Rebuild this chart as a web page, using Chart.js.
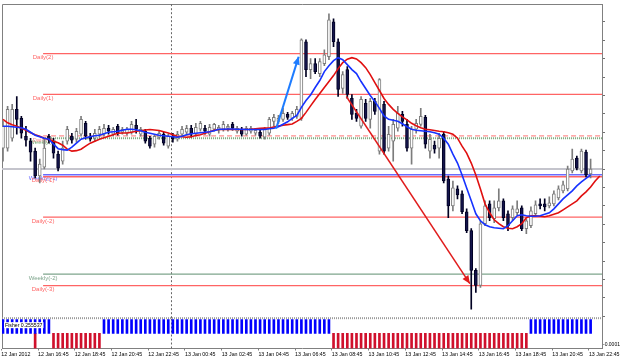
<!DOCTYPE html>
<html>
<head>
<meta charset="utf-8">
<title>M15 chart</title>
<script src="https://cdn.jsdelivr.net/npm/chart.js@4.4.1/dist/chart.umd.min.js"></script>
<style>
  html, body { margin: 0; padding: 0; background: #fff; }
</style>
</head>
<body>
<canvas id="chart" width="625" height="360"></canvas>
<script>
// 15 minute bars, 12 Jan 2012 14:45 .. 13 Jan 2012 22:45 (one label every 8 bars)
const timeLabels = ['12 Jan 2012', '12 Jan 16:45', '12 Jan 18:45', '12 Jan 20:45', '12 Jan 22:45',
  '13 Jan 00:45', '13 Jan 02:45', '13 Jan 04:45', '13 Jan 06:45', '13 Jan 08:45', '13 Jan 10:45',
  '13 Jan 12:45', '13 Jan 14:45', '13 Jan 16:45', '13 Jan 18:45', '13 Jan 20:45', '13 Jan 22:45'];

const opens = [1.2803,1.2803,1.2813,1.2842,1.2833,1.2815,1.2810,1.2800,1.2775,1.2784,
  1.2815,1.2810,1.2797,1.2790,1.2810,1.2815,1.2812,1.2817,1.2828,1.2815,
  1.2813,1.2817,1.2817,1.2823,1.2817,1.2825,1.2819,1.2818,1.2819,1.2826,
  1.2817,1.2820,1.2813,1.2807,1.2814,1.2817,1.2805,1.2815,1.2812,1.2817,
  1.2819,1.2823,1.2817,1.2822,1.2823,1.2817,1.2822,1.2821,1.2822,1.2823,
  1.2827,1.2820,1.2822,1.2817,1.2820,1.2818,1.2819,1.2814,1.2818,1.2830,
  1.2830,1.2832,1.2837,1.2833,1.2835,1.2833,1.2910,1.2882,1.2888,1.2878,
  1.2888,1.2895,1.2930,1.2910,1.2863,1.2882,1.2853,1.2838,1.2825,1.2848,
  1.2832,1.2850,1.2800,1.2847,1.2803,1.2810,1.2823,1.2837,1.2827,1.2803,
  1.2822,1.2827,1.2834,1.2800,1.2806,1.2803,1.2817,1.2772,1.2745,1.2762,
  1.2757,1.2739,1.2720,1.2680,1.2665,1.2727,1.2747,1.2732,1.2743,1.2750,
  1.2737,1.2733,1.2738,1.2743,1.2722,1.2725,1.2737,1.2747,1.2747,1.2745,
  1.2747,1.2753,1.2760,1.2762,1.2780,1.2793,1.2780,1.2799,1.2777];
const highs = [1.2830,1.2845,1.2847,1.2855,1.2835,1.2825,1.2813,1.2803,1.2792,1.2812,
  1.2817,1.2813,1.2800,1.2810,1.2825,1.2818,1.2823,1.2835,1.2830,1.2818,
  1.2822,1.2825,1.2827,1.2826,1.2824,1.2827,1.2824,1.2824,1.2830,1.2832,
  1.2824,1.2822,1.2815,1.2817,1.2820,1.2819,1.2817,1.2818,1.2820,1.2825,
  1.2826,1.2826,1.2828,1.2830,1.2826,1.2827,1.2828,1.2826,1.2830,1.2827,
  1.2829,1.2825,1.2824,1.2825,1.2825,1.2823,1.2821,1.2824,1.2834,1.2837,
  1.2836,1.2843,1.2839,1.2840,1.2845,1.2913,1.2912,1.2893,1.2893,1.2893,
  1.2902,1.2938,1.2933,1.2913,1.2880,1.2885,1.2857,1.2842,1.2855,1.2852,
  1.2853,1.2853,1.2873,1.2850,1.2825,1.2832,1.2845,1.2840,1.2832,1.2825,
  1.2832,1.2843,1.2836,1.2817,1.2810,1.2818,1.2820,1.2775,1.2770,1.2765,
  1.2760,1.2742,1.2722,1.2682,1.2730,1.2750,1.2750,1.2750,1.2762,1.2752,
  1.2740,1.2745,1.2750,1.2745,1.2732,1.2744,1.2750,1.2752,1.2752,1.2754,
  1.2760,1.2765,1.2770,1.2785,1.2802,1.2795,1.2802,1.2801,1.2792];
const lows = [1.2790,1.2800,1.2810,1.2817,1.2813,1.2805,1.2790,1.2773,1.2768,1.2782,
  1.2808,1.2793,1.2780,1.2787,1.2807,1.2808,1.2809,1.2815,1.2812,1.2810,
  1.2810,1.2814,1.2815,1.2817,1.2815,1.2816,1.2817,1.2816,1.2817,1.2818,
  1.2815,1.2808,1.2803,1.2804,1.2812,1.2806,1.2803,1.2809,1.2810,1.2815,
  1.2816,1.2814,1.2815,1.2820,1.2817,1.2815,1.2820,1.2818,1.2820,1.2820,
  1.2821,1.2818,1.2815,1.2816,1.2818,1.2816,1.2813,1.2812,1.2816,1.2825,
  1.2828,1.2830,1.2832,1.2831,1.2833,1.2831,1.2875,1.2873,1.2878,1.2875,
  1.2886,1.2892,1.2905,1.2855,1.2858,1.2853,1.2832,1.2830,1.2823,1.2830,
  1.2823,1.2837,1.2797,1.2797,1.2800,1.2790,1.2820,1.2825,1.2800,1.2787,
  1.2818,1.2825,1.2803,1.2793,1.2798,1.2793,1.2768,1.2733,1.2740,1.2752,
  1.2737,1.2718,1.2641,1.2658,1.2663,1.2725,1.2730,1.2728,1.2740,1.2730,
  1.2720,1.2730,1.2736,1.2720,1.2717,1.2723,1.2735,1.2742,1.2740,1.2743,
  1.2745,1.2751,1.2758,1.2760,1.2778,1.2781,1.2778,1.2774,1.2773];
const closes = [1.2825,1.2842,1.2842,1.2832,1.2818,1.2811,1.2799,1.2775,1.2787,1.2803,
  1.2811,1.2798,1.2783,1.2803,1.2822,1.2811,1.2820,1.2832,1.2815,1.2812,
  1.2818,1.2822,1.2823,1.2820,1.2822,1.2818,1.2822,1.2822,1.2827,1.2822,
  1.2822,1.2810,1.2805,1.2815,1.2818,1.2808,1.2815,1.2812,1.2817,1.2822,
  1.2823,1.2817,1.2824,1.2828,1.2820,1.2824,1.2827,1.2824,1.2827,1.2825,
  1.2823,1.2823,1.2817,1.2823,1.2823,1.2821,1.2815,1.2822,1.2832,1.2834,
  1.2833,1.2838,1.2834,1.2838,1.2842,1.2912,1.2882,1.2888,1.2880,1.2890,
  1.2897,1.2932,1.2910,1.2862,1.2877,1.2857,1.2837,1.2833,1.2852,1.2833,
  1.2850,1.2840,1.2872,1.2800,1.2817,1.2827,1.2838,1.2830,1.2803,1.2822,
  1.2828,1.2835,1.2807,1.2812,1.2802,1.2813,1.2770,1.2745,1.2763,1.2756,
  1.2739,1.2720,1.2680,1.2665,1.2727,1.2745,1.2733,1.2743,1.2750,1.2733,
  1.2725,1.2742,1.2742,1.2722,1.2730,1.2740,1.2746,1.2745,1.2744,1.2748,
  1.2757,1.2762,1.2766,1.2782,1.2792,1.2783,1.2800,1.2776,1.2782];

// moving averages (blue = fast, red = slow)
const maFast = [1.2825,1.2825,1.28245,1.2824,1.28235,1.2822,1.2819,1.2816,1.28145,1.2813,
  1.2812,1.2807,1.28025,1.28015,1.2801,1.2804,1.2808,1.2812,1.28135,1.28145,
  1.28155,1.2816,1.28175,1.2819,1.28195,1.2820,1.2821,1.2822,1.2822,1.28215,
  1.28205,1.2819,1.2818,1.2817,1.2816,1.28155,1.2815,1.28145,1.2814,1.2815,
  1.28165,1.28175,1.2818,1.28185,1.2819,1.28195,1.28205,1.2822,1.2822,1.28222,
  1.28223,1.2822,1.2822,1.28217,1.28217,1.28217,1.28217,1.28217,1.28225,1.2823,
  1.28245,1.2827,1.28295,1.2833,1.2836,1.2844,1.2851,1.28565,1.2864,1.2871,
  1.2880,1.2886,1.2891,1.2894,1.2892,1.2887,1.2882,1.2878,1.2870,1.2863,
  1.2856,1.2850,1.2843,1.28355,1.2832,1.2831,1.2830,1.28275,1.28245,1.2822,
  1.2821,1.28205,1.2820,1.28195,1.28185,1.2817,1.2813,1.2807,1.2797,1.2788,
  1.2776,1.2763,1.2750,1.2737,1.2730,1.2726,1.2724,1.2723,1.27225,1.2722,
  1.2725,1.2730,1.2735,1.2736,1.2735,1.27345,1.27345,1.2735,1.27365,1.2738,
  1.2742,1.2747,1.2752,1.2756,1.2760,1.2765,1.2769,1.27725,1.2776];
const maSlow = [1.2832,1.28285,1.28265,1.2825,1.2823,1.2821,1.28185,1.28165,1.2815,1.2813,
  1.2812,1.2810,1.28085,1.2806,1.2802,1.2800,1.28005,1.2802,1.2805,1.2808,
  1.2810,1.2812,1.28135,1.2815,1.28165,1.2818,1.28183,1.28183,1.2819,1.2820,
  1.28205,1.28212,1.28217,1.28212,1.28207,1.28195,1.28183,1.28165,1.2815,1.28145,
  1.2814,1.28145,1.28157,1.28165,1.2818,1.28195,1.2821,1.28217,1.28217,1.28217,
  1.28217,1.28217,1.28217,1.28217,1.2822,1.28225,1.2823,1.28232,1.28233,1.28242,
  1.28252,1.2826,1.28267,1.28273,1.2830,1.2833,1.2839,1.28455,1.2852,1.2858,
  1.2864,1.2870,1.2876,1.2883,1.2889,1.28925,1.2894,1.28927,1.2889,1.2884,
  1.2877,1.2869,1.2861,1.2853,1.2847,1.2842,1.2838,1.28345,1.28315,1.2828,
  1.28255,1.28235,1.2822,1.28215,1.28207,1.2820,1.28195,1.28185,1.2817,1.2813,
  1.2805,1.2798,1.2788,1.2776,1.2762,1.2747,1.2738,1.2731,1.2727,1.2724,
  1.27225,1.2722,1.2724,1.2727,1.2733,1.2735,1.2735,1.27345,1.2734,1.2735,
  1.27365,1.2738,1.2741,1.2744,1.2747,1.2750,1.2755,1.2759,1.2764,1.2770,1.2775];

// pivot levels drawn from bar levelStart to the right edge
const levelStart = 8.73;
const levelNames = ['Daily(2)', 'Daily(1)', 'Daily(P)', 'Weekly(P)', 'Weekly(-1)', 'Daily(-1)', 'Daily(-2)', 'Weekly(-2)', 'Daily(-3)'];
const levelValues = [1.2898, 1.2857, 1.28153, 1.2813, 1.27763, 1.27743, 1.27337, 1.26763, 1.26647];
const bidPrice = 1.2782;
const daySeparator = 36.7; // 13 Jan 00:00

// fisher sign histogram: runs of bars above / below zero
const fisherValue = '0.255537';
const fisherUpRuns = [[0, 10], [22, 71], [115, 128]];
const fisherDownRuns = [[7, 7], [11, 21], [72, 114]];
const fisherUp = 0.9, fisherDown = -1;

// trend arrows [bar, price]
const blueArrow = [[59.5, 1.28227], [64.4, 1.2895]];
const redArrow = [[74.8, 1.2855], [101.7, 1.26667]];

const levelColors = ['#ff6464', '#ff6464', '#ff9090', '#78a878', '#6a6aff', '#ff6464', '#ff6464', '#7ea58c', '#ff6464'];
const levelDash = [[], [], [5, 3], [1, 1], [], [], [], [], []];
const levelWidths = [1.2, 1.2, 1.2, 2, 1.6, 1.6, 1.2, 1.2, 1.2];

const xMin = -0.218, xMax = 130.48;
const yMin = 1.2632, yMax = 1.2948;

const isUp = i => closes[i] >= opens[i];
const upFill = '#ffffff', upLine = '#7c7c7c', downFill = '#14144c', downLine = '#000022';

function runsToPoints(runs, v) {
  let pts = [];
  runs.forEach(r => {
    for (let i = r[0]; i <= r[1]; i++) pts.push({x: i, y: v});
  });
  return pts;
}

let datasets = [
  { type: 'line', data: blueArrow.map(p => ({x: p[0], y: p[1]})), borderColor: '#1e7cff', borderWidth: 2, pointRadius: 0, arrow: true, order: 0 },
  { type: 'line', data: redArrow.map(p => ({x: p[0], y: p[1]})), borderColor: '#e01c1c', borderWidth: 1.5, pointRadius: 0, arrow: true, order: 0 },
  { type: 'line', data: maFast.map((v, i) => ({x: i, y: v})), borderColor: '#1632ff', borderWidth: 1.6, pointRadius: 0, order: 1 },
  { type: 'line', data: maSlow.map((v, i) => ({x: i, y: v})), borderColor: '#e01010', borderWidth: 1.6, pointRadius: 0, order: 1 },
  { type: 'bar', data: opens.map((o, i) => ({x: i, y: [o, closes[i]]})), barThickness: 3, grouped: false,
    borderSkipped: false, borderWidth: 1,
    backgroundColor: ctx => isUp(ctx.dataIndex) ? upFill : downFill,
    borderColor: ctx => isUp(ctx.dataIndex) ? upLine : downLine, order: 2 },
  { type: 'bar', data: lows.map((l, i) => ({x: i, y: [l, highs[i]]})), barThickness: 1, grouped: false,
    borderWidth: 0, backgroundColor: ctx => isUp(ctx.dataIndex) ? upLine : downLine, order: 3 },
  { type: 'bar', yAxisID: 'y2', data: runsToPoints(fisherUpRuns, fisherUp), barThickness: 2, grouped: false, backgroundColor: '#0000ff', order: 2 },
  { type: 'bar', yAxisID: 'y2', data: runsToPoints(fisherDownRuns, fisherDown), barThickness: 2, grouped: false, backgroundColor: '#d0102c', order: 2 },
  { type: 'line', data: [{x: xMin, y: bidPrice}, {x: xMax, y: bidPrice}], borderColor: '#c4c4cc', borderWidth: 2, pointRadius: 0, order: 5 },
  { type: 'line', data: [{x: daySeparator, y: yMin}, {x: daySeparator, y: yMax}], borderColor: '#666', borderWidth: 1, borderDash: [2, 2], pointRadius: 0, order: 5 },
  { type: 'line', yAxisID: 'y2', data: [{x: daySeparator, y: -1}, {x: daySeparator, y: 1}], borderColor: '#666', borderWidth: 1, borderDash: [2, 2], pointRadius: 0, order: 5 }
];
levelValues.forEach((v, k) => {
  datasets.push({ type: 'line', data: [{x: levelStart, y: v}, {x: xMax, y: v}], borderColor: levelColors[k],
    borderWidth: levelWidths[k], borderDash: levelDash[k], pointRadius: 0, order: 4 });
});

const font = 'Liberation Sans, Arial, sans-serif';

const extras = {
  id: 'extras',
  beforeDatasetsDraw(chart) {
    const {ctx, chartArea: a, scales} = chart;
    ctx.save();
    ctx.strokeStyle = '#808080';
    ctx.lineWidth = 1;
    ctx.beginPath();
    ctx.moveTo(a.left + 0.5, a.bottom);
    ctx.lineTo(a.left + 0.5, a.top + 0.5);
    ctx.lineTo(a.right, a.top + 0.5);
    ctx.stroke();
    ctx.strokeStyle = '#9c9c9c';
    ctx.lineWidth = 2;
    ctx.setLineDash([1, 1]);
    ctx.beginPath();
    ctx.moveTo(a.left, scales.y.bottom);
    ctx.lineTo(a.right, scales.y.bottom);
    ctx.stroke();
    // level captions under the start of each line
    ctx.font = '6px ' + font;
    ctx.textAlign = 'center';
    ctx.textBaseline = 'top';
    const lx = scales.x.getPixelForValue(levelStart);
    levelValues.forEach((v, k) => {
      ctx.fillStyle = levelColors[k];
      ctx.fillText(levelNames[k], lx, scales.y.getPixelForValue(v) + 1);
    });
    ctx.restore();
  },
  afterDatasetsDraw(chart) {
    const {ctx, scales} = chart;
    ctx.save();
    chart.data.datasets.forEach((ds, i) => {
      if (!ds.arrow) return;
      const pts = chart.getDatasetMeta(i).data;
      const a = pts[pts.length - 2], b = pts[pts.length - 1];
      const ang = Math.atan2(b.y - a.y, b.x - a.x);
      ctx.fillStyle = ds.borderColor;
      ctx.beginPath();
      ctx.moveTo(b.x, b.y);
      ctx.lineTo(b.x - 8 * Math.cos(ang) + 3.5 * Math.sin(ang), b.y - 8 * Math.sin(ang) - 3.5 * Math.cos(ang));
      ctx.lineTo(b.x - 8 * Math.cos(ang) - 3.5 * Math.sin(ang), b.y - 8 * Math.sin(ang) + 3.5 * Math.cos(ang));
      ctx.closePath();
      ctx.fill();
    });
    // indicator caption
    const tx = scales.x.left + 3, ty = scales.y2.top + 7;
    ctx.font = '5.2px ' + font;
    ctx.textBaseline = 'middle';
    const w = ctx.measureText('Fisher ' + fisherValue).width;
    ctx.fillStyle = '#fff';
    ctx.fillRect(tx - 1, ty - 3, w + 2, 6);
    ctx.fillStyle = '#000';
    ctx.fillText('Fisher ' + fisherValue, tx, ty);
    ctx.restore();
  }
};

new Chart(document.getElementById('chart'), {
  type: 'bar',
  data: { datasets: datasets },
  options: {
    responsive: false,
    animation: false,
    events: [],
    layout: { padding: { left: 2, top: 2, right: 0, bottom: 0 } },
    plugins: { legend: { display: false }, tooltip: { enabled: false } },
    scales: {
      x: {
        type: 'linear', position: 'bottom', min: xMin, max: xMax, offset: false,
        grid: { drawOnChartArea: false, tickLength: 2, color: '#808080', offset: false },
        border: { color: '#808080' },
        afterBuildTicks: s => { s.ticks = timeLabels.map((t, k) => ({ value: 8 * k - 0.37 })); },
        afterFit: s => { s.height = 11.5; },
        ticks: { align: 'start', autoSkip: false, maxRotation: 0, padding: 1, color: '#000',
          font: { family: font, size: 5.3 }, callback: (v, idx) => timeLabels[idx] }
      },
      y: {
        type: 'linear', position: 'right', stack: 'panes', stackWeight: 316, min: yMin, max: yMax,
        grid: { drawOnChartArea: false, tickLength: 3, color: '#707070' },
        border: { color: '#808080' },
        afterBuildTicks: s => {
          let t = [];
          for (let k = 0; k <= 16; k++) t.push({ value: 1.2930 - 0.00185 * k });
          s.ticks = t;
        },
        afterFit: s => { s.width = 23; },
        ticks: { display: false }
      },
      y2: {
        type: 'linear', position: 'right', stack: 'panes', stackWeight: 30.5, min: -1, max: 1,
        grid: { drawOnChartArea: false, drawTicks: false },
        border: { color: '#808080' },
        afterBuildTicks: s => { s.ticks = [{ value: -0.72 }]; },
        afterFit: s => { s.width = 23; },
        ticks: { padding: 1, color: '#000', font: { family: font, size: 5 }, callback: () => '-0.0001' }
      }
    }
  },
  plugins: [extras]
});
</script>
</body>
</html>
